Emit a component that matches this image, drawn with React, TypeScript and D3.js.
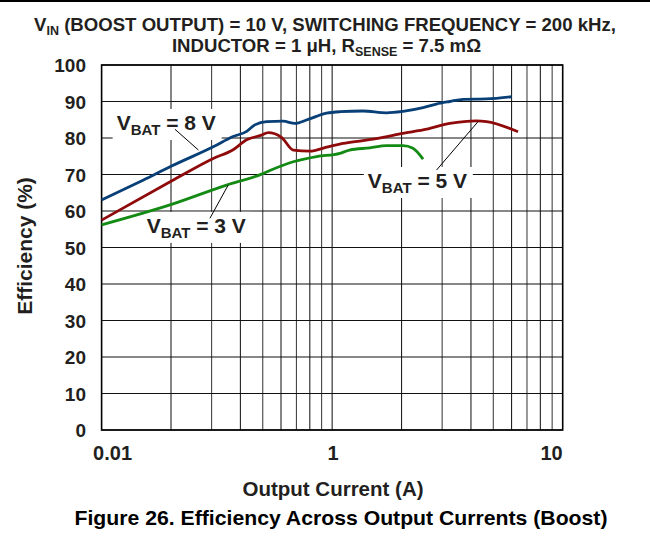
import React from "react";
import * as d3 from "d3";

// ---- data ----
const xDomain = [0.1, 10];
const yDomain = [0, 100];
const yTicks = [0, 10, 20, 30, 40, 50, 60, 70, 80, 90, 100];
const xTickValues = [0.1, 1, 10];
const xTickLabels = ["0.01", "1", "10"];

const v8Current = [0.1, 0.152, 0.201, 0.305, 0.372, 0.426, 0.462, 0.52, 0.613, 0.689, 0.787, 0.946, 1.08, 1.36, 1.72, 2.03, 2.48, 2.83, 3.24, 3.7, 4.67, 6.0];
const v8Eff = [63, 68.5, 72.3, 77.6, 80.4, 81.8, 83.6, 84.5, 84.6, 84.0, 85.1, 86.8, 87.2, 87.4, 86.9, 87.3, 88.3, 89.3, 90.0, 90.6, 90.7, 91.3];

const v5Current = [0.1, 0.201, 0.305, 0.372, 0.426, 0.494, 0.528, 0.603, 0.678, 0.8, 0.946, 1.116, 1.36, 1.66, 2.03, 2.48, 3.24, 4.23, 4.67, 6.4];
const v5Eff = [57.5, 68.2, 74.4, 76.8, 79.5, 80.8, 81.5, 80.2, 76.7, 76.4, 77.5, 78.5, 79.3, 80.2, 81.3, 82.2, 84.0, 84.7, 84.5, 81.7];

const v3Current = [0.1, 0.201, 0.348, 0.494, 0.537, 0.678, 0.856, 1.08, 1.19, 1.457, 1.72, 2.03, 2.24, 2.48];
const v3Eff = [56.2, 61.8, 67.1, 70.1, 71.1, 73.5, 74.9, 75.8, 76.7, 77.3, 77.9, 77.9, 77.2, 74.2];

const seriesNames = ["8 V", "5 V", "3 V"];
const seriesColors = ["#073f76", "#8f0a0a", "#138a13"];

// annotation anchors in data space: [labelX, labelY, leaderX1, leaderY1, leaderX2, leaderY2]
const annotations = [
  [0.1162, 82.2, 0.208, 82.4, 0.263, 76.7],
  [1.428, 66.3, 2.835, 71.2, 4.295, 84.5],
  [0.1568, 54.0, 0.295, 58.0, 0.354, 67.1],
];

export default function App() {
  const W = 650, H = 541;
  const left = 101.6, right = 562.7, top = 65, bottom = 430;
  const x = d3.scaleLog().domain(xDomain).range([left, right]);
  const y = d3.scaleLinear().domain(yDomain).range([bottom, top]);

  const minor: number[] = [];
  for (const dec of [0.1, 1]) for (let k = 2; k <= 9; k++) minor.push(dec * k);
  minor.push(1);

  const series = [
    v8Current.map((c, i) => [c, v8Eff[i]]),
    v5Current.map((c, i) => [c, v5Eff[i]]),
    v3Current.map((c, i) => [c, v3Eff[i]]),
  ];
  const line = d3
    .line<number[]>()
    .x((d) => x(d[0]))
    .y((d) => y(d[1]))
    .curve(d3.curveMonotoneX);

  const font = "Arial, 'Liberation Sans', Helvetica, sans-serif";

  return (
    <svg
      width={W}
      height={H}
      style={{ position: "absolute", left: 0, top: 0, background: "#fff" }}
      fontFamily={font}
      fontWeight="bold"
    >
      <rect x={0} y={0} width={W} height={H} fill="#fff" />
      <line x1={0} x2={W} y1={1} y2={1} stroke="#000" strokeWidth={2} />

      {/* title */}
      <text x={325} y={31} fontSize={18.6} textAnchor="middle" fill="#231f20">
        V<tspan fontSize={12.5} dy={4}>IN</tspan>
        <tspan dy={-4}> (BOOST OUTPUT) = 10 V, SWITCHING FREQUENCY = 200 kHz,</tspan>
      </text>
      <text x={326.5} y={52} fontSize={18.6} textAnchor="middle" fill="#231f20">
        INDUCTOR = 1 μH, R<tspan fontSize={12.5} dy={4}>SENSE</tspan>
        <tspan dy={-4}> = 7.5 mΩ</tspan>
      </text>

      {/* grid */}
      {minor.map((v, i) => (
        <line key={"v" + i} x1={x(v)} x2={x(v)} y1={top} y2={bottom} stroke={i % 2 ? "#444" : "#222"} strokeWidth={1.1} />
      ))}
      {yTicks.map((t) => (
        <line key={"h" + t} x1={left} x2={right} y1={y(t)} y2={y(t)} stroke="#111" strokeWidth={1.1} />
      ))}
      <rect x={left} y={top} width={right - left} height={bottom - top} fill="none" stroke="#000" strokeWidth={1.6} />

      {/* label backgrounds (hide grid only) */}
      {annotations.map((a, i) => (
        <rect key={"bg" + i} x={x(a[0]) - 4} y={y(a[1]) - 21} width={109} height={31} fill="#fff" />
      ))}

      {/* series */}
      {series.map((s, i) => (
        <path key={seriesNames[i]} d={line(s) || ""} fill="none" stroke={seriesColors[i]} strokeWidth={2.8} strokeLinejoin="round" />
      ))}

      {/* annotations */}
      {annotations.map((a, i) => {
        const tx = x(a[0]);
        const ty = y(a[1]);
        return (
          <g key={"a" + i}>
            <line x1={x(a[2])} y1={y(a[3])} x2={x(a[4])} y2={y(a[5])} stroke="#000" strokeWidth={1} />
            <text x={tx} y={ty} fontSize={21} fill="#231f20">
              V<tspan fontSize={15} dy={5}>BAT</tspan>
              <tspan dy={-5}>{" = " + seriesNames[i]}</tspan>
            </text>
          </g>
        );
      })}

      {/* y ticks */}
      {yTicks.map((t) => (
        <text key={"yt" + t} x={86} y={y(t) + 7} fontSize={19} textAnchor="end" fill="#231f20">
          {t}
        </text>
      ))}
      {/* x ticks */}
      {xTickValues.map((v, i) => (
        <text
          key={"xt" + i}
          x={i === 0 ? x(v) - 8.5 : x(v) + (i === 1 ? 1 : 0)}
          y={460}
          fontSize={20}
          textAnchor={i === 0 ? "start" : i === 1 ? "middle" : "end"}
          fill="#231f20"
        >
          {xTickLabels[i]}
        </text>
      ))}

      {/* axis titles */}
      <text x={333} y={496} fontSize={20.5} textAnchor="middle" fill="#231f20">
        Output Current (A)
      </text>
      <text transform="translate(32,246) rotate(-90)" fontSize={21} textAnchor="middle" fill="#231f20">
        Efficiency (%)
      </text>
      <text x={341} y={525} fontSize={21} textAnchor="middle" fill="#000" textLength={533} lengthAdjust="spacingAndGlyphs">
        Figure 26. Efficiency Across Output Currents (Boost)
      </text>
    </svg>
  );
}
